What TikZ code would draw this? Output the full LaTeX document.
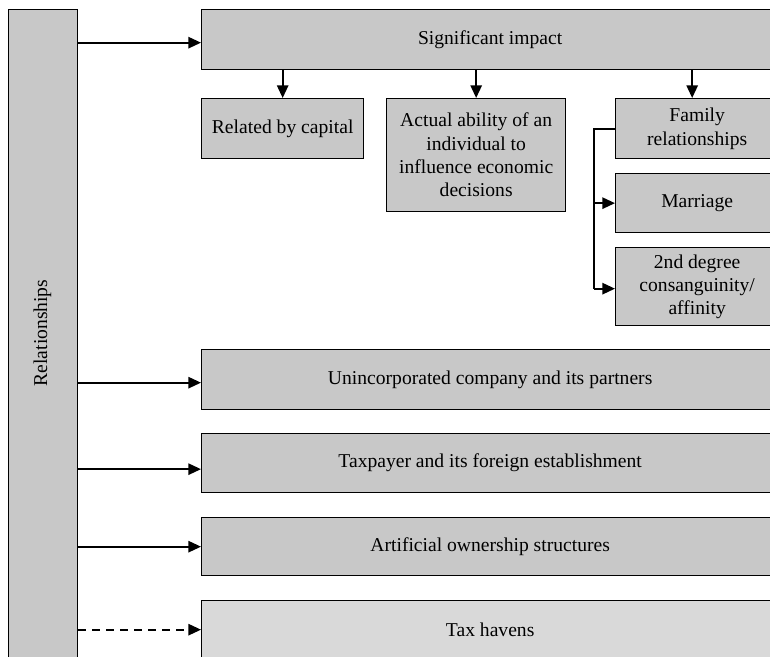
\documentclass[tikz,border=0pt]{standalone}
\usepackage{fontspec}
\setmainfont{Liberation Serif}
\usetikzlibrary{arrows.meta,calc}
\definecolor{boxgray}{RGB}{200,200,200}
\definecolor{lightgray}{RGB}{217,217,217}
\tikzset{
  box/.style={draw=black, line width=1pt, fill=boxgray, align=center, inner sep=0pt,
    font=\fontsize{14.7}{17.5}\selectfont},
  arr/.style={line width=1.35pt, -{Triangle[length=9.5pt,width=8.5pt]}},
}
\begin{document}
\begin{tikzpicture}[x=0.75pt,y=-0.75pt]
\useasboundingbox (0,0) rectangle (770,656);
\clip (0,0) rectangle (770,656);
% left bar
\node[box, minimum width=69*0.75pt, minimum height=660*0.75pt, anchor=north west] (bar) at (8,9) {};
\node[font=\fontsize{14.7}{17.5}\selectfont, rotate=90] (rel) at (42.5,333) {Relationships};
% top
\node[box, minimum width=577*0.75pt, minimum height=60*0.75pt, anchor=north west] (sig) at (201,9) {Significant impact};
\node[box, minimum width=162*0.75pt, minimum height=60*0.75pt, anchor=north west] (cap) at (201,98) {Related by capital};
\node[box, minimum width=179*0.75pt, minimum height=113*0.75pt, anchor=north west] (act) at (386,98) {Actual ability of an\\individual to\\influence economic\\decisions};
\node[box, minimum width=163*0.75pt, minimum height=60*0.75pt, anchor=north west] (fam) at (615,98) {Family\\relationships};
\node[box, minimum width=163*0.75pt, minimum height=59*0.75pt, anchor=north west] (mar) at (615,173) {Marriage};
\node[box, minimum width=163*0.75pt, minimum height=78*0.75pt, anchor=north west] (deg) at (615,247) {2nd degree\\consanguinity/\\affinity};
% wide boxes
\node[box, minimum width=577*0.75pt, minimum height=60*0.75pt, anchor=north west] (unc) at (201,349) {Unincorporated company and its partners};
\node[box, minimum width=577*0.75pt, minimum height=59*0.75pt, anchor=north west] (tax) at (201,433) {Taxpayer and its foreign establishment};
\node[box, minimum width=577*0.75pt, minimum height=58*0.75pt, anchor=north west] (art) at (201,517) {Artificial ownership structures};
\node[box, fill=lightgray, minimum width=577*0.75pt, minimum height=58*0.75pt, anchor=north west] (hav) at (201,600) {Tax havens};
% arrows from bar
\draw[arr] ($(bar.east |- sig.west)+(0,3)$) -- ($(sig.west)+(0,3)$);
\draw[arr] ($(bar.east |- unc.west)+(0,3)$) -- ($(unc.west)+(0,3)$);
\draw[arr] ($(bar.east |- tax.west)+(0,6)$) -- ($(tax.west)+(0,6)$);
\draw[arr] (bar.east |- art.west) -- (art.west);
\draw[arr, dash pattern=on 6pt off 4.5pt] (bar.east |- hav.west) -- (hav.west);
% arrows down
\draw[arr] (sig.south -| cap.north) -- (cap.north);
\draw[arr] (sig.south -| act.north) -- (act.north);
\draw[arr] ($(sig.south -| fam.north)+(-5,0)$) -- ($(fam.north)+(-5,0)$);
% bracket
\draw[line width=1.35pt] (fam.west) -- ++(-21,0) coordinate (br) -- ($(br |- deg.west)+(0,2.5)$);
\draw[arr] (br |- mar.west) -- (mar.west);
\draw[arr] ($(br |- deg.west)+(0,2)$) -- ($(deg.west)+(0,2)$);
\end{tikzpicture}
\end{document}
